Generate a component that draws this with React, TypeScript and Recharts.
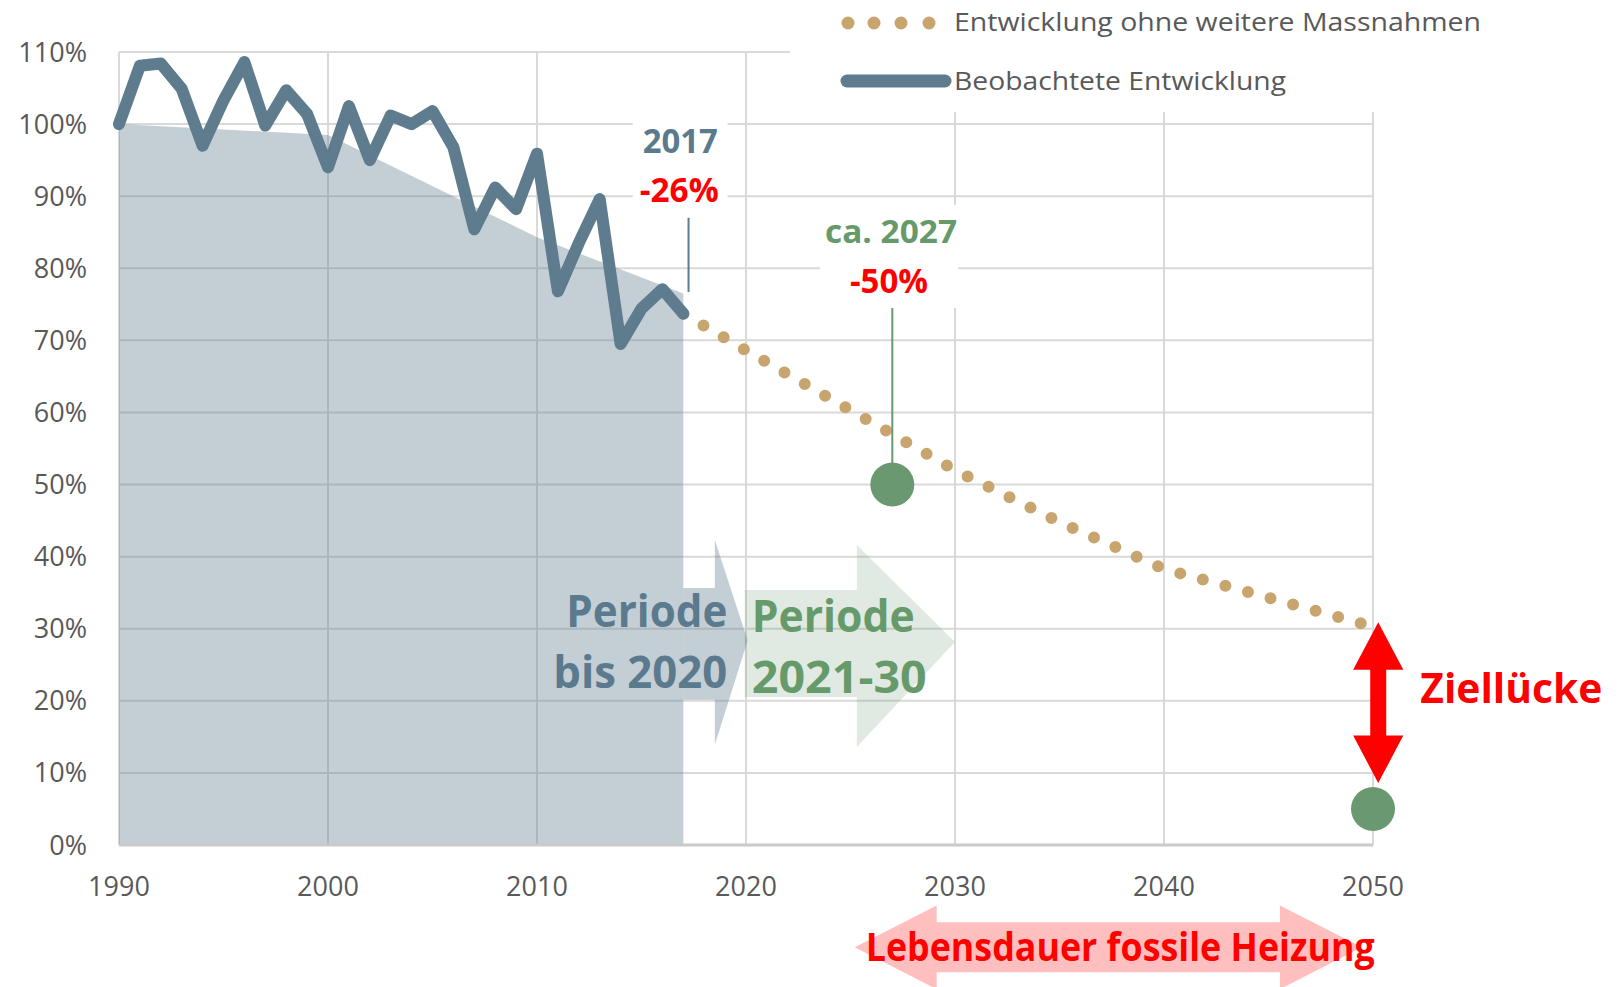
import React from 'react';
import {
  ComposedChart,
  Area,
  Line,
  Scatter,
  XAxis,
  YAxis,
  CartesianGrid,
  ReferenceArea,
  ReferenceLine,
  Legend,
} from 'recharts';

// ---------- data ----------
const observedYears = [
  1990, 1991, 1992, 1993, 1994, 1995, 1996, 1997, 1998, 1999,
  2000, 2001, 2002, 2003, 2004, 2005, 2006, 2007, 2008, 2009,
  2010, 2011, 2012, 2013, 2014, 2015, 2016, 2017,
];
const observedValues = [
  100, 108.1, 108.4, 104.9, 97, 103.3, 108.6, 99.8, 104.7, 101.4,
  94, 102.5, 95, 101.2, 100, 101.8, 96.8, 85.4, 91.2, 88.2,
  95.9, 76.8, 83.5, 89.6, 69.5, 74.4, 77.1, 73.7,
];
const pathYears = [1990, 2000, 2010, 2017];
const pathValues = [100, 98.5, 84.3, 76.5];
const projectionYears = [2017, 2020, 2025, 2030, 2035, 2040, 2045, 2050];
const projectionValues = [73.7, 68.6, 60.3, 52.0, 44.8, 38.3, 34.3, 30.3];
const targetYears = [2027, 2050];
const targetValues = [50, 5];
const xTicks = [1990, 2000, 2010, 2020, 2030, 2040, 2050];
const yTicks = [0, 10, 20, 30, 40, 50, 60, 70, 80, 90, 100, 110];
const legendLabels = ['Entwicklung ohne weitere Massnahmen', 'Beobachtete Entwicklung'];
const periodLabels = ['Periode', 'bis 2020', 'Periode', '2021-30'];
const noteLabels = ['2017', '-26%', 'ca. 2027', '-50%'];
const gapLabel = 'Ziellücke';
const lifetimeLabel = 'Lebensdauer fossile Heizung';

const observedData = observedYears.map((year, i) => ({ year, value: observedValues[i] }));
const pathData = pathYears.map((year, i) => ({ year, value: pathValues[i] }));
const projectionData = projectionYears.map((year, i) => ({ year, value: projectionValues[i] }));
const targetData = targetYears.map((year, i) => ({ year, value: targetValues[i] }));

// ---------- styles ----------
const FONT = "'Open Sans', 'Noto Sans', sans-serif";
const SLATE = '#5e7c8e';
const SLATE_TEXT = '#5b7a8d';
const TAN = '#c8a46e';
const GREEN = '#6a9870';
const GREEN_TEXT = '#679a6b';
const RED = '#ff0000';
const GREY_TEXT = '#595959';

const tickStyle = { fill: GREY_TEXT, fontSize: 27, fontFamily: FONT };

const LegendContent = () => (
  <svg width={700} height={110} style={{ display: 'block' }}>
    {[12, 38, 65, 93].map((cx) => (
      <circle key={cx} cx={cx} cy={23} r={6.5} fill={TAN} />
    ))}
    <text x={118} y={31} fontFamily={FONT} fontSize={26} fill={GREY_TEXT} textLength={527} lengthAdjust="spacingAndGlyphs">
      {legendLabels[0]}
    </text>
    <line x1={11} x2={109} y1={81} y2={81} stroke={SLATE} strokeWidth={13} strokeLinecap="round" />
    <text x={118} y={90} fontFamily={FONT} fontSize={26} fill={GREY_TEXT} textLength={332} lengthAdjust="spacingAndGlyphs">
      {legendLabels[1]}
    </text>
  </svg>
);

const WhiteBox = (p: any) => (
  <rect x={p.x} y={p.y} width={p.width} height={p.height} fill="#ffffff" />
);

const Label2017 = (p: any) => (
  <g>
    <rect x={p.x} y={p.y} width={p.width} height={p.height} fill="#ffffff" />
    <text x={p.x + 10} y={p.y + 38} fontFamily={FONT} fontWeight={700} fontSize={34} fill={SLATE_TEXT} textLength={75} lengthAdjust="spacingAndGlyphs">
      {noteLabels[0]}
    </text>
    <text x={p.x + 7} y={p.y + 87} fontFamily={FONT} fontWeight={700} fontSize={34} fill={RED} textLength={79} lengthAdjust="spacingAndGlyphs">
      {noteLabels[1]}
    </text>
  </g>
);

const Label2027 = (p: any) => (
  <g>
    <rect x={p.x} y={p.y} width={p.width} height={p.height} fill="#ffffff" />
    <text x={p.x + 5} y={p.y + 38} fontFamily={FONT} fontWeight={700} fontSize={32} fill={GREEN_TEXT} textLength={132} lengthAdjust="spacingAndGlyphs">
      {noteLabels[2]}
    </text>
    <text x={p.x + 30} y={p.y + 88} fontFamily={FONT} fontWeight={700} fontSize={34} fill={RED} textLength={78} lengthAdjust="spacingAndGlyphs">
      {noteLabels[3]}
    </text>
  </g>
);

const SlateArrow = (p: any) => {
  const { x, y, width: w, height: h } = p;
  const hb = x + w * 0.49;
  const bt = y + h * 0.234;
  const bb = y + h * 0.78;
  const ty = y + h * 0.49;
  const pts = `${x},${bt} ${hb},${bt} ${hb},${y} ${x + w},${ty} ${hb},${y + h} ${hb},${bb} ${x},${bb}`;
  return (
    <g>
      <polygon points={pts} fill={SLATE} fillOpacity={0.37} />
      <text x={x + 44 - 161} y={y + 87} fontFamily={FONT} fontWeight={700} fontSize={45} fill={SLATE_TEXT} textLength={161} lengthAdjust="spacingAndGlyphs">
        {periodLabels[0]}
      </text>
      <text x={x + 44 - 174} y={y + 148} fontFamily={FONT} fontWeight={700} fontSize={45} fill={SLATE_TEXT} textLength={174} lengthAdjust="spacingAndGlyphs">
        {periodLabels[1]}
      </text>
    </g>
  );
};

const GreenArrow = (p: any) => {
  const { x, y, width: w, height: h } = p;
  const hb = x + w * 0.533;
  const bt = y + h * 0.223;
  const bb = y + h * 0.752;
  const ty = y + h * 0.48;
  const pts = `${x},${bt} ${hb},${bt} ${hb},${y} ${x + w},${ty} ${hb},${y + h} ${hb},${bb} ${x},${bb}`;
  return (
    <g>
      <polygon points={pts} fill={GREEN} fillOpacity={0.2} />
      <text x={x + 7} y={y + 87} fontFamily={FONT} fontWeight={700} fontSize={45} fill={GREEN_TEXT} textLength={163} lengthAdjust="spacingAndGlyphs">
        {periodLabels[2]}
      </text>
      <text x={x + 7} y={y + 148} fontFamily={FONT} fontWeight={700} fontSize={45} fill={GREEN_TEXT} textLength={175} lengthAdjust="spacingAndGlyphs">
        {periodLabels[3]}
      </text>
    </g>
  );
};

const GapArrow = (p: any) => {
  const { x, y, width: w, height: h } = p;
  const cx = x + w / 2;
  const sw = 8;
  const hl = h * 0.295;
  const top = y;
  const bot = y + h;
  const pts = [
    [cx, top], [x + w, top + hl], [cx + sw, top + hl], [cx + sw, bot - hl], [x + w, bot - hl],
    [cx, bot], [x, bot - hl], [cx - sw, bot - hl], [cx - sw, top + hl], [x, top + hl],
  ].map((q) => q.join(',')).join(' ');
  return (
    <g>
      <polygon points={pts} fill={RED} />
      <text x={x + w + 17} y={y + h * 0.5} fontFamily={FONT} fontWeight={700} fontSize={42} fill={RED} textLength={182} lengthAdjust="spacingAndGlyphs">
        {gapLabel}
      </text>
    </g>
  );
};

const LifetimeArrow = (p: any) => {
  const { x, y, width: w, height: h } = p;
  const cy = y + h * 0.5;
  const hl = 82;
  const bh = 25;
  const pts = [
    [x, cy], [x + hl, y], [x + hl, cy - bh], [x + w - hl, cy - bh], [x + w - hl, y],
    [x + w, cy], [x + w - hl, y + h], [x + w - hl, cy + bh], [x + hl, cy + bh], [x + hl, y + h],
  ].map((q) => q.join(',')).join(' ');
  return (
    <g>
      <polygon points={pts} fill="#ffbfbf" />
      <text x={x + 11} y={y + 55} fontFamily={FONT} fontWeight={700} fontSize={40} fill={RED} textLength={509} lengthAdjust="spacingAndGlyphs">
        {lifetimeLabel}
      </text>
    </g>
  );
};

const TargetDot = (p: any) => <circle cx={p.cx} cy={p.cy} r={22} fill={GREEN} />;

export default function App() {
  return (
    <div style={{ position: 'absolute', left: 0, top: 0, width: 1622, height: 987, background: '#ffffff' }}>
      <ComposedChart width={1622} height={987} margin={{ top: 52, right: 249, bottom: 82, left: 0 }}>
        <CartesianGrid stroke="#d9d9d9" strokeWidth={2} />
        <XAxis
          dataKey="year"
          type="number"
          domain={[1990, 2050]}
          ticks={xTicks}
          tickLine={false}
          tickSize={0}
          tickMargin={32}
          height={60}
          axisLine={{ stroke: '#cacaca', strokeWidth: 3 }}
          tick={tickStyle}
        />
        <YAxis
          type="number"
          domain={[0, 110]}
          ticks={yTicks}
          tickFormatter={(v: number) => `${v}%`}
          width={119}
          axisLine={false}
          tickLine={false}
          tickSize={0}
          tickMargin={32}
          tick={tickStyle}
        />
        <ReferenceArea x1={2022.1} x2={2051} y1={101.7} y2={118} ifOverflow="visible" shape={WhiteBox} zIndex={-50} />
        <ReferenceArea x1={2014.58} x2={2019.12} y1={88.8} y2={101.2} ifOverflow="visible" shape={Label2017} zIndex={-50} />
        <ReferenceArea x1={2023.54} x2={2030.14} y1={74.5} y2={88.8} ifOverflow="visible" shape={Label2027} zIndex={-50} />
        <Area
          data={pathData}
          dataKey="value"
          type="linear"
          stroke="none"
          fill={SLATE}
          fillOpacity={0.37}
          baseValue={0}
          isAnimationActive={false}
          activeDot={false}
          zIndex={100}
        />
        <ReferenceArea x1={2017} x2={2020.08} y1={13.9} y2={42.3} ifOverflow="visible" shape={SlateArrow} zIndex={150} />
        <ReferenceArea x1={2019.94} x2={2030.0} y1={13.6} y2={41.6} ifOverflow="visible" shape={GreenArrow} zIndex={150} />
        <ReferenceArea x1={2025.2} x2={2049.47} y1={-20} y2={-8.4} ifOverflow="visible" shape={LifetimeArrow} zIndex={150} />
        <Line
          data={projectionData}
          dataKey="value"
          type="linear"
          stroke={TAN}
          strokeWidth={12}
          strokeDasharray="0 23.4"
          strokeLinecap="round"
          dot={false}
          activeDot={false}
          isAnimationActive={false}
          zIndex={400}
        />
        <Line
          data={observedData}
          dataKey="value"
          type="linear"
          stroke={SLATE}
          strokeWidth={12}
          strokeLinejoin="round"
          strokeLinecap="round"
          dot={false}
          activeDot={false}
          isAnimationActive={false}
          zIndex={410}
        />
        <ReferenceLine segment={[{ x: 2017.25, y: 76.7 }, { x: 2017.25, y: 87 }]} stroke={SLATE} strokeWidth={2} ifOverflow="visible" zIndex={450} />
        <ReferenceLine segment={[{ x: 2027, y: 50 }, { x: 2027, y: 74.5 }]} stroke={GREEN} strokeWidth={2} ifOverflow="visible" zIndex={450} />
        <Scatter data={targetData} dataKey="value" shape={TargetDot} isAnimationActive={false} zIndex={600} />
        <ReferenceArea x1={2049.05} x2={2051.45} y1={8.6} y2={30.9} ifOverflow="visible" shape={GapArrow} zIndex={700} />
        <Legend
          layout="vertical"
          align="center"
          verticalAlign="middle"
          wrapperStyle={{ top: 0, left: 836, width: 700, height: 110 }}
          content={() => <LegendContent />}
        />
      </ComposedChart>
    </div>
  );
}
